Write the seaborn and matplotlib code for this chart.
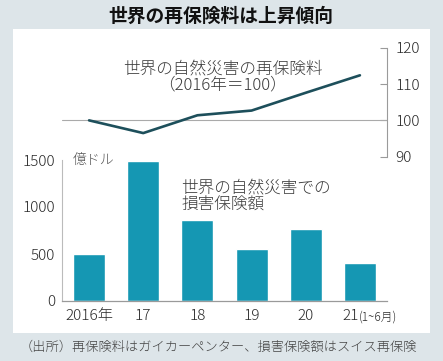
"""
世界の再保険料は上昇傾向 — bar + line combo chart
"""

import matplotlib
matplotlib.use("Agg")
import matplotlib.pyplot as plt
from matplotlib.patches import Rectangle
import seaborn as sns
import pandas as pd

# ─────────────────────────────────────────
# DATA
# ─────────────────────────────────────────
years = ["2016年", "17", "18", "19", "20", "21"]
insured_losses = [500, 1485, 860, 550, 765, 400]        # 億ドル
reinsurance_index = [100, 96.5, 101.4, 102.7, 107.6, 112.4]  # 2016年=100
left_ticks = [0, 500, 1000, 1500]
right_ticks = [90, 100, 110, 120]

bar_df = pd.DataFrame({"year": years, "loss": insured_losses})
line_df = pd.DataFrame({"pos": range(len(years)), "index": reinsurance_index})

# ─────────────────────────────────────────
# STYLE
# ─────────────────────────────────────────
sns.set_style("white")
plt.rcParams["font.family"] = ["Noto Sans CJK JP", "DejaVu Sans"]
plt.rcParams["font.weight"] = "light"

BG = "#dde5e9"
BAR = "#1597b3"
LINE = "#1d4f5b"
TXT = "#3a3a3a"
TICK = "#2a2a2a"
AXIS = "#9a9a9a"

fig = plt.figure(figsize=(4.43, 3.61), dpi=100, facecolor=BG)

# white panel
fig.patches.append(Rectangle((13 / 443, 1 - 333 / 361), 417 / 443, 304 / 361,
                             transform=fig.transFigure, facecolor="white",
                             edgecolor="none", zorder=-1))

# ─────────────────────────────────────────
# BAR CHART (lower)
# ─────────────────────────────────────────
ax_bar = fig.add_axes([62 / 443, 1 - 301 / 361, 325 / 443, 141 / 361])
ax_bar.set_zorder(2)
ax_bar.patch.set_alpha(0)
sns.barplot(data=bar_df, x="year", y="loss", color=BAR, width=0.59,
            saturation=1, ax=ax_bar)
ax_bar.set_xlim(-0.5, len(years) - 0.5)
ax_bar.set_ylim(0, 1500)
ax_bar.set_yticks(left_ticks)
ax_bar.set_xlabel("")
ax_bar.set_ylabel("")
labels = list(years[:-1]) + [""]
ax_bar.set_xticks(range(len(years)))
ax_bar.set_xticklabels(labels)
ax_bar.tick_params(axis="x", length=0, pad=6, labelsize=11, labelcolor=TICK)
ax_bar.tick_params(axis="y", direction="in", length=4, width=0.8, color=AXIS,
                   pad=5, labelsize=11, labelcolor=TICK)
for s in ["top", "right"]:
    ax_bar.spines[s].set_visible(False)
ax_bar.spines["left"].set_color("#bbbbbb")
ax_bar.spines["left"].set_linewidth(0.8)
ax_bar.spines["bottom"].set_color(AXIS)
ax_bar.spines["bottom"].set_linewidth(0.9)

# last tick label "21(1~6月)" with smaller parenthesis part
ax_bar.annotate("21", xy=(len(years) - 1, 0), xycoords="data",
                xytext=(-1, -6), textcoords="offset points",
                ha="right", va="top", fontsize=11, color=TICK)
ax_bar.annotate("(1~6月)", xy=(len(years) - 1, 0), xycoords="data",
                xytext=(-1, -7), textcoords="offset points",
                ha="left", va="top", fontsize=8.5, color=TICK)

ax_bar.annotate("億ドル", xy=(0, 1500), xycoords=("axes fraction", "data"),
                xytext=(8, 0), textcoords="offset points",
                ha="left", va="center", fontsize=10, color="#555555")

# ─────────────────────────────────────────
# LINE CHART (upper)
# ─────────────────────────────────────────
ax_line = fig.add_axes([62 / 443, 1 - 156.7 / 361, 325 / 443, 109 / 361])
ax_line.set_zorder(2)
ax_line.patch.set_alpha(0)
ax_line.axhline(100, color="#aaaaaa", lw=0.8, zorder=1)
sns.lineplot(data=line_df, x="pos", y="index", color=LINE, lw=1.9, ax=ax_line,
             zorder=3)
ax_line.set_xlim(-0.5, len(years) - 0.5)
ax_line.set_ylim(90, 120)
ax_line.set_yticks(right_ticks)
ax_line.set_xticks([])
ax_line.set_xlabel("")
ax_line.set_ylabel("")
ax_line.yaxis.tick_right()
ax_line.tick_params(axis="y", direction="in", length=5, width=0.8, color=AXIS,
                    pad=6, labelsize=11, labelcolor=TICK)
for s in ["top", "left", "bottom"]:
    ax_line.spines[s].set_visible(False)
ax_line.spines["right"].set_color(AXIS)
ax_line.spines["right"].set_linewidth(0.8)

# ─────────────────────────────────────────
# TEXTS
# ─────────────────────────────────────────
fig.text(221 / 443, 1 - 16 / 361, "世界の再保険料は上昇傾向", ha="center",
         va="center", fontsize=13.5, fontweight="bold", color="#111111")
fig.text(223 / 443, 1 - 69 / 361, "世界の自然災害の再保険料", ha="center",
         va="center", fontsize=12, color=TXT)
fig.text(222 / 443, 1 - 85 / 361, "（2016年＝100）", ha="center",
         va="center", fontsize=12, color=TXT)
fig.text(181 / 443, 1 - 188 / 361, "世界の自然災害での", ha="left",
         va="center", fontsize=12, color=TXT)
fig.text(181 / 443, 1 - 205 / 361, "損害保険額", ha="left",
         va="center", fontsize=12, color=TXT)
fig.text(218 / 443, 1 - 347 / 361,
         "（出所）再保険料はガイカーペンター、損害保険額はスイス再保険",
         ha="center", va="center", fontsize=9.5, color="#444444")

fig.savefig("out.png", dpi=100, facecolor=BG)
